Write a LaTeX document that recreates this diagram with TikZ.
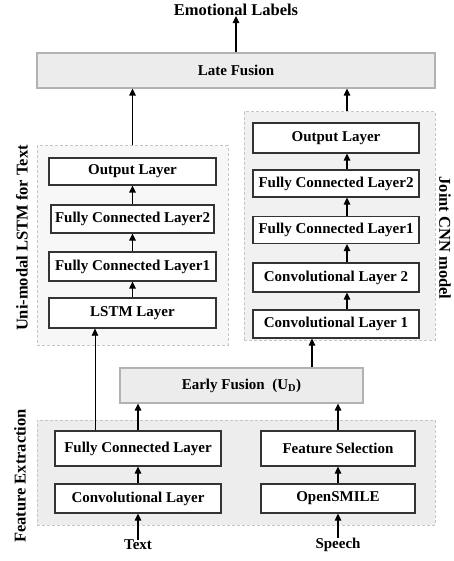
\documentclass[tikz,border=0pt]{standalone}
\usepackage{fontspec}
\setmainfont{Liberation Serif}
\usetikzlibrary{arrows.meta}

\begin{document}
\begin{tikzpicture}[x=1pt,y=-1pt,
    layer/.style={draw=black!80, fill=white, line width=1.2pt, inner sep=0pt,
      font=\fontsize{15}{18}\selectfont\bfseries},
    fusion/.style={draw=gray!60, fill=gray!15, line width=1.2pt, inner sep=0pt,
      font=\fontsize{15}{18}\selectfont\bfseries},
    group/.style={draw=gray!45, dash pattern=on 3pt off 2pt, line width=1pt, inner sep=0pt},
    sidetext/.style={font=\fontsize{16.5}{20}\selectfont\bfseries, inner sep=0pt},
    inputtext/.style={font=\fontsize{15}{18}\selectfont\bfseries, inner sep=0pt},
    arr/.style={-{Triangle[length=7pt,width=6.5pt]}, line width=1.2pt},
    thinarr/.style={-{Triangle[length=7pt,width=6.5pt]}, line width=0.7pt}]
  \useasboundingbox (0,0) rectangle (453,561);
  % dashed groups
  \node[group, fill=gray!6, minimum width=191pt, minimum height=199pt] (lstmgrp) at (132.5,245.5) {};
  \node[group, fill=gray!11, minimum width=191pt, minimum height=228pt] (cnngrp) at (339.5,226) {};
  \node[group, fill=gray!14, minimum width=398pt, minimum height=105pt] (fxgrp) at (236,472.5) {};
  \node[sidetext, rotate=90] (lstmlbl) at (22,238) {Uni-modal LSTM for Text};
  \node[sidetext, rotate=-90] (cnnlbl) at (445,238) {Joint CNN model};
  \node[sidetext, rotate=90] (fxlbl) at (20,476) {Feature Extraction};
  % fusion
  \node[sidetext] (emo) at (236,10) {Emotional Labels};
  \node[fusion, minimum width=398pt, minimum height=35pt] (late) at (236,70.5) {Late Fusion};
  \node[fusion, minimum width=243pt, minimum height=35pt] (early) at (241.5,385.5) {Early Fusion\ \ (U\textsubscript{D})};
  % uni-modal LSTM
  \node[layer, minimum width=167pt, minimum height=27pt] (lout) at (132.5,171.5) {Output Layer};
  \node[layer, minimum width=163pt, minimum height=28pt] (lfc2) at (132.5,219) {Fully Connected Layer2};
  \node[layer, minimum width=167pt, minimum height=29pt] (lfc1) at (132.5,266.5) {Fully Connected Layer1};
  \node[layer, minimum width=167pt, minimum height=30pt] (lstm) at (132.5,313) {LSTM Layer};
  % joint CNN
  \node[layer, minimum width=166pt, minimum height=30pt] (cout) at (336,138) {Output Layer};
  \node[layer, minimum width=166pt, minimum height=27pt] (cfc2) at (336,183.5) {Fully Connected Layer2};
  \node[layer, minimum width=166pt, minimum height=27pt] (cfc1) at (336,230) {Fully Connected Layer1};
  \node[layer, minimum width=166pt, minimum height=29pt] (cc2) at (336,277.5) {Convolutional Layer 2};
  \node[layer, minimum width=166pt, minimum height=28pt] (cc1) at (336,324) {Convolutional Layer 1};
  % feature extraction
  \node[layer, minimum width=166pt, minimum height=35pt] (fc) at (138,448.5) {Fully Connected Layer};
  \node[layer, minimum width=166pt, minimum height=29pt] (conv) at (138,498.5) {Convolutional Layer};
  \node[layer, minimum width=154pt, minimum height=35pt] (fs) at (338,448.5) {Feature Selection};
  \node[layer, minimum width=154pt, minimum height=29pt] (osm) at (338,498.5) {OpenSMILE};
  \node[inputtext] (txt) at (138,545) {Text};
  \node[inputtext] (spch) at (338,545) {Speech};

  \foreach \a/\b in {lstm/lfc1, lfc1/lfc2, lfc2/lout, conv/fc, osm/fs, txt/conv, spch/osm}
    \draw[arr] (\a.north) -- (\b.south);
  \foreach \a/\b in {cc1/cc2, cc2/cfc1, cfc1/cfc2, cfc2/cout}
    \draw[arr] ([xshift=11pt]\a.north) -- ([xshift=11pt]\b.south);
  \draw[arr] (late.north) -- (emo.south);
  \draw[arr] (lstmgrp.north) -- (lstmgrp.north |- late.south);
  \draw[arr] ([xshift=7.5pt]cnngrp.north) -- ([xshift=7.5pt]cnngrp.north |- late.south);
  \draw[arr] (fc.north) -- (fc.north |- early.south);
  \draw[arr] (fs.north) -- (fs.north |- early.south);
  \draw[arr] ([xshift=-24pt]cc1.south |- early.north) -- ([xshift=-24pt]cc1.south);
  \draw[thinarr] ([xshift=-43pt]fc.north) -- ([xshift=-43pt]fc.north |- lstm.south);
\end{tikzpicture}
\end{document}
